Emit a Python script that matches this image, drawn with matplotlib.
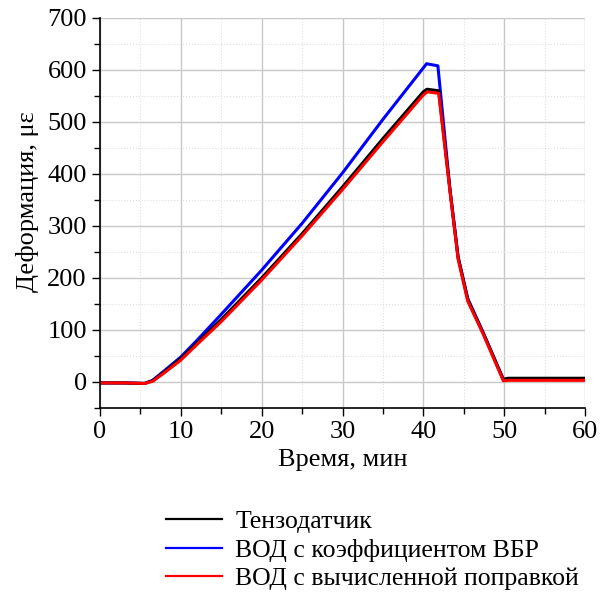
import numpy as np
import matplotlib.pyplot as plt
from matplotlib.ticker import MultipleLocator

plt.rcParams['font.family'] = ['Liberation Serif', 'DejaVu Serif']

# время, мин
t_tenzo = [0, 3, 5.5, 6.5, 8, 10, 12, 15, 20, 25, 30, 35, 40, 40.45, 41.9, 43.3, 44.3, 45.5, 47.4, 49.9, 50.5, 55, 60]
tenzo = [-2, -2, -3, 2, 20, 45, 75, 120, 200, 285, 375, 468, 558, 563, 560, 369, 240, 158, 94, 5, 7, 7, 7]

t_vbr = [0, 3, 5.5, 6.5, 8, 10, 12, 15, 20, 25, 30, 35, 40, 40.4, 41.8, 43.3, 44.3, 45.5, 47.4, 49.9, 50.5, 55, 60]
vbr = [-2, -2, -3, 3, 22, 48, 80, 130, 215, 305, 402, 505, 604, 612, 608, 369, 240, 160, 95, 4, 5, 5, 5]

t_corr = [0, 3, 5.5, 6.5, 8, 10, 12, 15, 20, 25, 30, 35, 40, 40.5, 41.9, 43.3, 44.3, 45.5, 47.4, 49.9, 50.5, 55, 60]
corr = [-2, -2, -3, 1, 18, 42, 72, 116, 196, 281, 370, 462, 552, 558, 555, 366, 236, 155, 92, 2, 3, 3, 3]

fig = plt.figure(figsize=(6, 5.92), dpi=100)
ax = fig.add_axes([0.1667, 0.311, 0.8083, 0.6586])

ax.plot(t_vbr, vbr, color='#0000ff', lw=2.2, label='ВОД с коэффициентом ВБР')
ax.plot(t_tenzo, tenzo, color='black', lw=2.2, label='Тензодатчик')
ax.plot(t_corr, corr, color='#ff0000', lw=2.2, label='ВОД с вычисленной поправкой')

ax.set_xlim(0, 60)
ax.set_ylim(-50, 700)
ax.xaxis.set_major_locator(MultipleLocator(10))
ax.xaxis.set_minor_locator(MultipleLocator(5))
ax.yaxis.set_major_locator(MultipleLocator(100))
ax.yaxis.set_minor_locator(MultipleLocator(50))
ax.grid(which='major', color='#c8c8c8', lw=1)
ax.grid(which='minor', color='#e0e0e0', lw=0.8, ls=':')
ax.set_axisbelow(True)
for s in ['top', 'right']:
    ax.spines[s].set_visible(False)
ax.spines['left'].set_linewidth(1.2)
ax.spines['bottom'].set_linewidth(1.2)
ax.tick_params(which='major', length=6, width=1, labelsize=19)
ax.tick_params(which='minor', length=4, width=1)

ax.set_xlabel('Время, мин', fontsize=19)
ax.set_ylabel('Деформация, με', fontsize=19)
ax.yaxis.set_label_coords(-0.125, 0.53)

h, l = ax.get_legend_handles_labels()
order = [1, 0, 2]
leg = fig.legend([h[i] for i in order], [l[i] for i in order], loc='lower left',
                 bbox_to_anchor=(0.238, -0.036), frameon=False, fontsize=18.5,
                 handlelength=2.2, labelspacing=0.22, handletextpad=0.5)
for ln in leg.get_lines():
    ln.set_linewidth(1.6)

fig.savefig('out.png', dpi=100)
